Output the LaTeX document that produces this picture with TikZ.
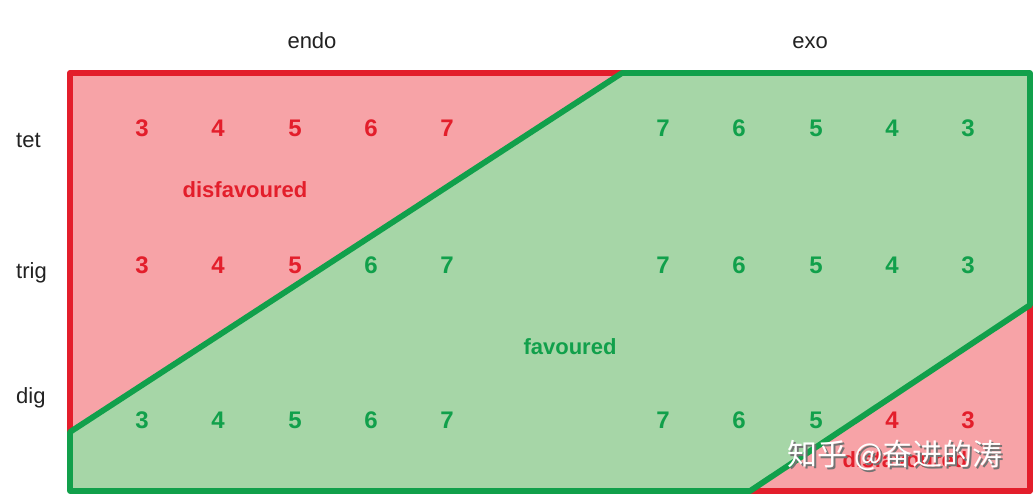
\documentclass[tikz,border=0pt]{standalone}
\usepackage{fontspec}
\setmainfont{Liberation Sans}
\newfontfamily\cjk{Noto Sans CJK SC}
\definecolor{rline}{HTML}{E31E2B}
\definecolor{rfill}{HTML}{F7A3A7}
\definecolor{gline}{HTML}{11A04B}
\definecolor{gfill}{HTML}{A6D6A7}
\definecolor{ink}{HTML}{222222}
\begin{document}
\begin{tikzpicture}[x=1pt,y=-1pt,
  lab/.style={font=\fontsize{22}{26}\selectfont, text=ink, inner sep=0pt, anchor=base},
  rowlab/.style={lab, anchor=base west},
  rnum/.style={font=\fontsize{24}{28}\selectfont\bfseries, text=rline, inner sep=0pt},
  gnum/.style={font=\fontsize{24}{28}\selectfont\bfseries, text=gline, inner sep=0pt},
  rword/.style={font=\fontsize{22}{26}\selectfont\bfseries, text=rline, inner sep=0pt},
  gword/.style={font=\fontsize{22}{26}\selectfont\bfseries, text=gline, inner sep=0pt},
  edge/.style={line width=5.8pt, line join=round, line cap=round}]
\useasboundingbox (0,0) rectangle (1036,499);
\fill[white] (0,0) rectangle (1036,499);
% corner coordinates
\coordinate (TL) at (70,73);
\coordinate (TM) at (622,73);
\coordinate (TR) at (1030,73);
\coordinate (RM) at (1030,305);
\coordinate (BR) at (1030,491);
\coordinate (BM) at (750,491);
\coordinate (BL) at (70,491);
\coordinate (LM) at (70,432);
% fills
\fill[rfill] (TL) -- (TM) -- (LM) -- cycle;
\fill[gfill] (TM) -- (TR) -- (RM) -- (BM) -- (BL) -- (LM) -- cycle;
\fill[rfill] (RM) -- (BR) -- (BM) -- cycle;
% borders
\draw[edge, rline] (LM) -- (TL) -- (TM);
\draw[edge, rline] (RM) -- (BR) -- (BM);
\draw[edge, gline] (TM) -- (TR) -- (RM) -- (BM) -- (BL) -- (LM) -- cycle;
% headers
\node[lab] (endo) at (312,48) {endo};
\node[lab] (exo) at (810,48) {exo};
\node[rowlab] (tet) at (16,147) {tet};
\node[rowlab] (trig) at (16,278) {trig};
\node[rowlab] (dig) at (16,403) {dig};
% tet row
\node[rnum] (t1) at (142,128) {3};
\node[rnum] (t2) at (218,128) {4};
\node[rnum] (t3) at (295,128) {5};
\node[rnum] (t4) at (371,128) {6};
\node[rnum] (t5) at (447,128) {7};
\node[gnum] (t6) at (663,128) {7};
\node[gnum] (t7) at (739,128) {6};
\node[gnum] (t8) at (816,128) {5};
\node[gnum] (t9) at (892,128) {4};
\node[gnum] (t10) at (968,128) {3};
% trig row
\node[rnum] (r1) at (142,265) {3};
\node[rnum] (r2) at (218,265) {4};
\node[rnum] (r3) at (295,265) {5};
\node[gnum] (r4) at (371,265) {6};
\node[gnum] (r5) at (447,265) {7};
\node[gnum] (r6) at (663,265) {7};
\node[gnum] (r7) at (739,265) {6};
\node[gnum] (r8) at (816,265) {5};
\node[gnum] (r9) at (892,265) {4};
\node[gnum] (r10) at (968,265) {3};
% dig row
\node[gnum] (d1) at (142,420) {3};
\node[gnum] (d2) at (218,420) {4};
\node[gnum] (d3) at (295,420) {5};
\node[gnum] (d4) at (371,420) {6};
\node[gnum] (d5) at (447,420) {7};
\node[gnum] (d6) at (663,420) {7};
\node[gnum] (d7) at (739,420) {6};
\node[gnum] (d8) at (816,420) {5};
\node[rnum] (d9) at (892,420) {4};
\node[rnum] (d10) at (968,420) {3};
% region labels
\node[rword] (dis1) at (245,190) {disfavoured};
\node[gword] (fav) at (570,347) {favoured};
\node[rword] (dis2) at (905,460) {disfavoured};
% watermark
\node[font=\cjk\fontsize{30}{34}\selectfont, text=black!55, inner sep=0pt] (wms) at (897,457) {知乎 @奋进的涛};
\node[font=\cjk\fontsize{30}{34}\selectfont, text=white, inner sep=0pt] (wm) at (895,455) {知乎 @奋进的涛};
\end{tikzpicture}
\end{document}
